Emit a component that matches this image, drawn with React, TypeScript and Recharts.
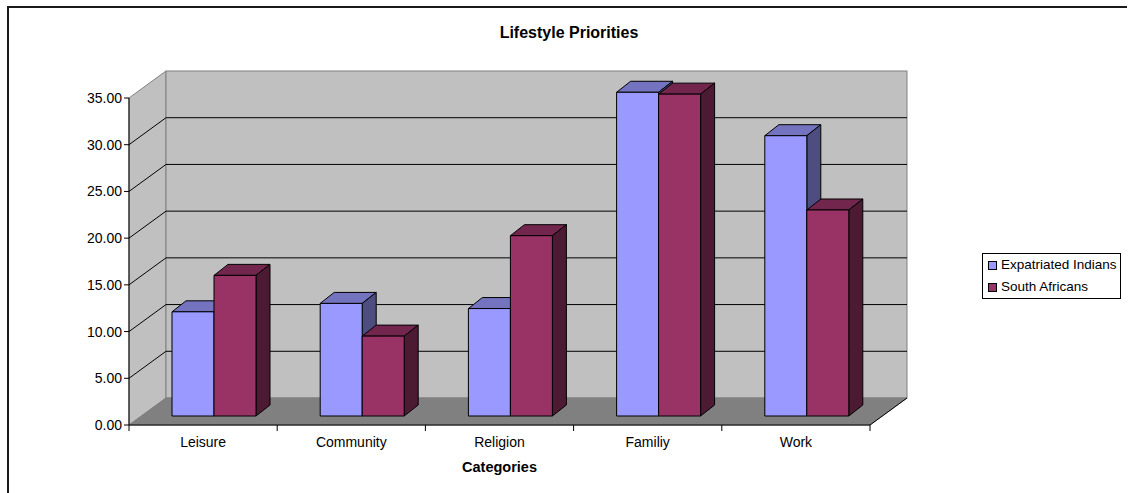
import { BarChart, Bar, XAxis, YAxis, CartesianGrid, Legend, ReferenceArea, Label } from 'recharts'

const categories = ['Leisure', 'Community', 'Religion', 'Familiy', 'Work']
const expatriatedIndians = [11.15, 12.05, 11.5, 34.65, 30.0]
const southAfricans = [15.05, 8.55, 19.3, 34.45, 22.05]
const yTicks = [0, 5, 10, 15, 20, 25, 30, 35]
const seriesNames = ['Expatriated Indians', 'South Africans']

const data = categories.map((category, i) => ({
  category,
  expat: expatriatedIndians[i],
  sa: southAfricans[i],
}))

// 3d look: wall depth, bar offset inside the box, bar depth
const WALL_DX = 37
const WALL_DY = 27
const BAR_SX = 11
const BAR_SY = 9
const DEPTH_X = 14
const DEPTH_Y = 11

const CHART_W = 1118
const CHART_H = 485
const MARGIN = { top: 90, right: 257, bottom: 23, left: 60 }
const PLOT_TOP = MARGIN.top
const PLOT_BOTTOM = 417

const FONT = "Arial, 'Liberation Sans', sans-serif"

function Walls(props: any) {
  const { x, y, width, height } = props
  const b = y + height
  const r = x + width
  return (
    <g>
      <polygon
        points={`${x},${y} ${x + WALL_DX},${y - WALL_DY} ${x + WALL_DX},${b - WALL_DY} ${x},${b}`}
        fill="#c0c0c0"
        stroke="#808080"
      />
      <rect x={x + WALL_DX} y={y - WALL_DY} width={width} height={height} fill="#c0c0c0" stroke="#808080" />
      <polygon
        points={`${x},${b} ${x + WALL_DX},${b - WALL_DY} ${r + WALL_DX},${b - WALL_DY} ${r},${b}`}
        fill="#808080"
        stroke="#808080"
      />
      <line x1={r} y1={b} x2={r + WALL_DX} y2={b - WALL_DY} stroke="#000" />
    </g>
  )
}

function gridLine(props: any) {
  const { x1, y1, x2, index } = props
  if (y1 <= PLOT_TOP + 0.5 || y1 >= PLOT_BOTTOM - 0.5) return <g key={`g-${index}`} />
  return (
    <path
      key={`g-${index}`}
      d={`M${x1},${y1} L${x1 + WALL_DX},${y1 - WALL_DY} L${x2 + WALL_DX},${y1 - WALL_DY}`}
      fill="none"
      stroke="#000"
    />
  )
}

function Box3D(props: any) {
  const { x, y, width, height, fill, top, side } = props
  if (!width || height == null) return null
  const fx = x + BAR_SX
  const fy = y - BAR_SY
  const rx = fx + width
  return (
    <g stroke="#000" strokeWidth={1} strokeLinejoin="round">
      <polygon
        points={`${fx},${fy} ${fx + DEPTH_X},${fy - DEPTH_Y} ${rx + DEPTH_X},${fy - DEPTH_Y} ${rx},${fy}`}
        fill={top}
      />
      <polygon
        points={`${rx},${fy} ${rx + DEPTH_X},${fy - DEPTH_Y} ${rx + DEPTH_X},${fy + height - DEPTH_Y} ${rx},${fy + height}`}
        fill={side}
      />
      <rect x={fx} y={fy} width={width} height={height} fill={fill} />
    </g>
  )
}

function CategoryTick(props: any) {
  const { x, y, payload } = props
  const half = payload.offset ?? 0
  const axisY = y - 8
  const isLast = payload.value === categories[categories.length - 1]
  return (
    <g>
      <line x1={x - half} y1={axisY} x2={x - half} y2={axisY + 6} stroke="#000" />
      {isLast && <line x1={x + half} y1={axisY} x2={x + half} y2={axisY + 6} stroke="#000" />}
      <text x={x} y={y + 14} textAnchor="middle" fontSize={14} fill="#000">
        {payload.value}
      </text>
    </g>
  )
}

function CategoriesTitle(props: any) {
  const vb = props.viewBox
  return (
    <text x={vb.x + vb.width / 2} y={vb.y + 47} textAnchor="middle" fontSize={14.5} fontWeight="bold" fill="#000">
      Categories
    </text>
  )
}

function LegendBox(props: any) {
  const items = props.payload || []
  return (
    <div
      style={{
        display: 'inline-block',
        border: '1px solid #000',
        padding: '0 3px 0 5px',
        lineHeight: '22px',
        fontSize: 13.5,
        background: '#fff',
        color: '#000',
      }}
    >
      {items.map((item: any) => (
        <div key={item.value} style={{ display: 'flex', alignItems: 'center', whiteSpace: 'nowrap' }}>
          <span
            style={{
              display: 'inline-block',
              width: 9,
              height: 9,
              boxSizing: 'border-box',
              border: '1px solid #000',
              background: item.color,
              marginRight: 4,
            }}
          />
          {item.value}
        </div>
      ))}
    </div>
  )
}

export default function App() {
  return (
    <div
      style={{
        position: 'absolute',
        left: 7,
        top: 6,
        width: CHART_W,
        height: CHART_H,
        borderLeft: '2px solid #1a1a1a',
        borderTop: '2px solid #1a1a1a',
        fontFamily: FONT,
        background: '#fff',
      }}
    >
      <div
        style={{
          position: 'absolute',
          left: 410,
          width: 300,
          top: 15,
          lineHeight: '20px',
          textAlign: 'center',
          fontSize: 16,
          fontWeight: 'bold',
          color: '#000',
          zIndex: 2,
        }}
      >
        Lifestyle Priorities
      </div>
      <BarChart
        width={CHART_W}
        height={CHART_H}
        data={data}
        margin={MARGIN}
        barCategoryGap={32}
        barGap={0}
      >
        <ReferenceArea y1={0} y2={35} ifOverflow="visible" shape={<Walls />} zIndex={-200} />
        <CartesianGrid vertical={false} horizontal={gridLine} zIndex={-100} />
        <XAxis
          dataKey="category"
          height={45}
          interval={0}
          axisLine={{ stroke: '#000' }}
          tickLine={false}
          tick={<CategoryTick />}
        >
          <Label content={<CategoriesTitle />} />
        </XAxis>
        <YAxis
          width={60}
          domain={[0, 35]}
          ticks={yTicks}
          interval={0}
          tickSize={5}
          tickFormatter={(v: number) => v.toFixed(2)}
          tick={{ fontSize: 14, fill: '#000' }}
          axisLine={{ stroke: '#000' }}
          tickLine={{ stroke: '#000' }}
        />
        <Legend
          layout="horizontal"
          align="center"
          verticalAlign="middle"
          content={<LegendBox />}
          wrapperStyle={{ left: 973, top: 245, width: 150, height: 'auto' }}
        />
        <Bar
          dataKey="expat"
          name={seriesNames[0]}
          fill="#9999ff"
          isAnimationActive={false}
          shape={(p: any) => <Box3D {...p} top="#7373bf" side="#4d4d80" />}
        />
        <Bar
          dataKey="sa"
          name={seriesNames[1]}
          fill="#993366"
          isAnimationActive={false}
          shape={(p: any) => <Box3D {...p} top="#73264d" side="#4d1a33" />}
        />
      </BarChart>
    </div>
  )
}
